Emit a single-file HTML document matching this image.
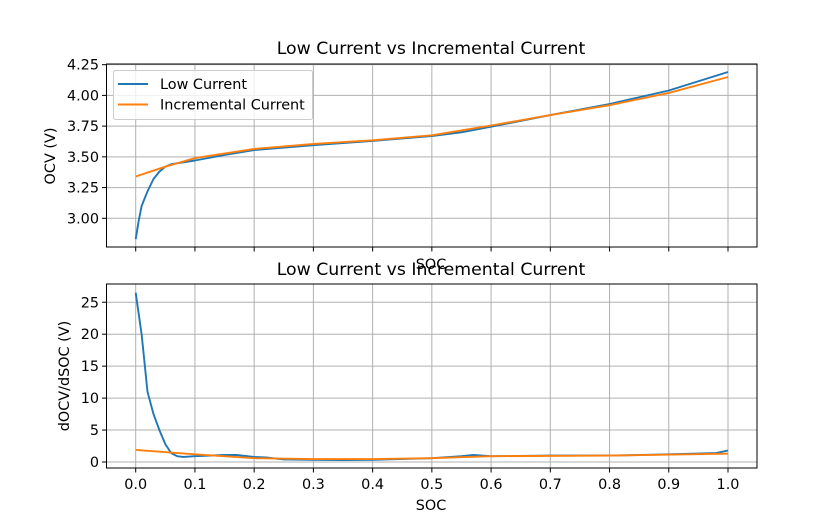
<!DOCTYPE html>
<html><head><meta charset="utf-8"><style>
body{margin:0;background:#fff}
text{font-family:"DejaVu Sans","Liberation Sans",sans-serif;fill:#000}
</style></head><body>
<svg id="s" width="839" height="525" xmlns="http://www.w3.org/2000/svg"></svg>
<script>
const s=document.getElementById('s');
const X=v=>135.7+v*592.3;
const Yt=v=>218.3-(v-3)*122.9;
const Yb=v=>462-v*6.39;
const F=14.4, FT=17.3;
let h='';
function axes(top,bot){
 h+=`<rect x="106.5" y="${top}" width="650.5" height="${bot-top}" fill="#fff"/>`;
 for(let i=0;i<=10;i++){const x=X(i/10);h+=`<line x1="${x}" y1="${top}" x2="${x}" y2="${bot}" stroke="#b0b0b0" stroke-width="1"/>`;
 h+=`<line x1="${x}" y1="${bot}" x2="${x}" y2="${bot+4.5}" stroke="#000" stroke-width="1"/>`;}
}
function frame(top,bot){h+=`<rect x="106.5" y="${top}" width="650.5" height="${bot-top}" fill="none" stroke="#000" stroke-width="1"/>`;}
function line(pts,fx,fy,c){h+=`<polyline fill="none" stroke="${c}" stroke-width="1.9" stroke-linejoin="round" points="${pts.map(p=>fx(p[0]).toFixed(1)+','+fy(p[1]).toFixed(1)).join(' ')}"/>`;}
axes(64,247);
[3,3.25,3.5,3.75,4,4.25].forEach(v=>{const y=Yt(v);h+=`<line x1="106.5" y1="${y}" x2="757" y2="${y}" stroke="#b0b0b0" stroke-width="1"/><line x1="102" y1="${y}" x2="106.5" y2="${y}" stroke="#000" stroke-width="1"/><text x="99" y="${y+5}" font-size="${F}" text-anchor="end">${v.toFixed(2)}</text>`;});
line([[0,2.83],[0.005,2.98],[0.01,3.1],[0.02,3.22],[0.03,3.32],[0.04,3.38],[0.05,3.42],[0.06,3.44],[0.1,3.47],[0.15,3.515],[0.2,3.555],[0.3,3.595],[0.4,3.63],[0.5,3.67],[0.55,3.7],[0.6,3.745],[0.7,3.84],[0.8,3.93],[0.9,4.04],[1,4.19]],X,Yt,'#1f77b4');
line([[0,3.34],[0.05,3.42],[0.1,3.49],[0.2,3.565],[0.3,3.605],[0.4,3.635],[0.5,3.675],[0.6,3.755],[0.7,3.84],[0.8,3.92],[0.9,4.02],[1,4.15]],X,Yt,'#ff7f0e');
frame(64,247);
h+=`<rect x="113.5" y="70.5" width="199" height="49" rx="2" fill="#fff" fill-opacity="0.8" stroke="#ccc"/>
<line x1="118" y1="84" x2="148" y2="84" stroke="#1f77b4" stroke-width="1.9"/><text x="160" y="89" font-size="${F}">Low Current</text>
<line x1="118" y1="104.5" x2="148" y2="104.5" stroke="#ff7f0e" stroke-width="1.9"/><text x="160" y="109.5" font-size="${F}">Incremental Current</text>`;
h+=`<text x="431" y="54" font-size="${FT}" text-anchor="middle">Low Current vs Incremental Current</text>`;
h+=`<text x="431" y="269" font-size="${F}" text-anchor="middle">SOC</text>`;
h+=`<text transform="translate(55,156) rotate(-90)" font-size="${F}" text-anchor="middle">OCV (V)</text>`;
h+=`<text x="431" y="275" font-size="${FT}" text-anchor="middle">Low Current vs Incremental Current</text>`;
axes(284,468);
[0,5,10,15,20,25].forEach(v=>{const y=Yb(v);h+=`<line x1="106.5" y1="${y}" x2="757" y2="${y}" stroke="#b0b0b0" stroke-width="1"/><line x1="102" y1="${y}" x2="106.5" y2="${y}" stroke="#000" stroke-width="1"/><text x="99" y="${y+5}" font-size="${F}" text-anchor="end">${v}</text>`;});
for(let i=0;i<=10;i++)h+=`<text x="${X(i/10)}" y="489" font-size="${F}" text-anchor="middle">${(i/10).toFixed(1)}</text>`;
line([[0,26.5],[0.01,20],[0.02,11],[0.03,7.5],[0.04,5],[0.05,2.8],[0.06,1.4],[0.07,0.9],[0.08,0.8],[0.1,0.9],[0.15,1.1],[0.17,1.1],[0.2,0.8],[0.22,0.7],[0.25,0.4],[0.3,0.35],[0.35,0.3],[0.4,0.35],[0.5,0.6],[0.55,0.9],[0.57,1.1],[0.6,0.9],[0.7,1.0],[0.8,1.0],[0.9,1.2],[0.98,1.4],[1,1.8]],X,Yb,'#1f77b4');
line([[0,1.9],[0.1,1.2],[0.2,0.6],[0.3,0.45],[0.4,0.45],[0.5,0.6],[0.6,0.9],[0.8,1.0],[1,1.3]],X,Yb,'#ff7f0e');
frame(284,468);
h+=`<text x="431" y="510" font-size="${F}" text-anchor="middle">SOC</text>`;
h+=`<text transform="translate(69,376) rotate(-90)" font-size="${F}" text-anchor="middle">dOCV/dSOC (V)</text>`;
s.innerHTML=h;
</script>
</body></html>
